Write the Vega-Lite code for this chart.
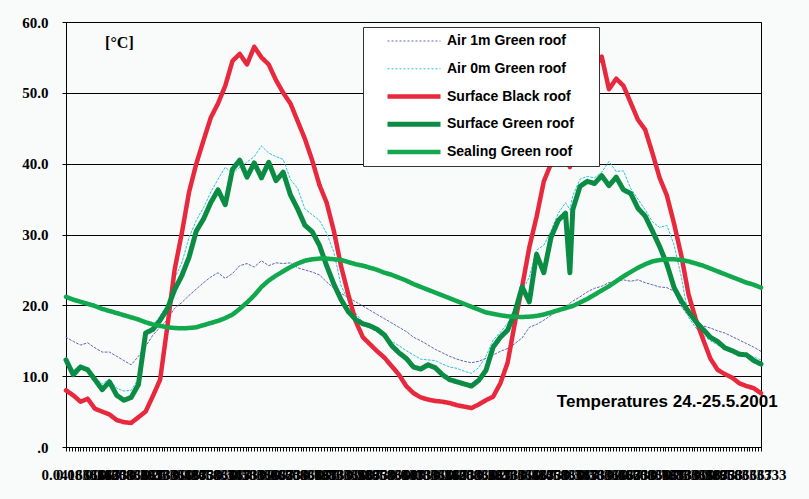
{
  "$schema": "https://vega.github.io/schema/vega-lite/v6.json",
  "width": 695,
  "height": 425,
  "autosize": {"type": "none"},
  "padding": {"left": 66, "top": 22, "right": 48, "bottom": 52},
  "background": "#f9fafa",
  "config": {"view": {"stroke": "#000000", "strokeWidth": 1}},
  "layer": [
    {
      "data": {"values": [
        {"t":0,"Air 1m Green roof":15.5,"Air 0m Green roof":12.7,"Surface Black roof":8.0,"Surface Green roof":12.3,"Sealing Green roof":21.2},
        {"t":0.5,"Air 1m Green roof":14.9,"Air 0m Green roof":10.8,"Surface Black roof":7.3,"Surface Green roof":10.2,"Sealing Green roof":20.8},
        {"t":1,"Air 1m Green roof":14.4,"Air 0m Green roof":11.5,"Surface Black roof":6.4,"Surface Green roof":11.3,"Sealing Green roof":20.5},
        {"t":1.5,"Air 1m Green roof":14.7,"Air 0m Green roof":11.0,"Surface Black roof":6.8,"Surface Green roof":10.9,"Sealing Green roof":20.2},
        {"t":2,"Air 1m Green roof":14.0,"Air 0m Green roof":9.9,"Surface Black roof":5.4,"Surface Green roof":9.5,"Sealing Green roof":19.9},
        {"t":2.5,"Air 1m Green roof":13.4,"Air 0m Green roof":8.9,"Surface Black roof":5.0,"Surface Green roof":8.1,"Sealing Green roof":19.5},
        {"t":3,"Air 1m Green roof":13.4,"Air 0m Green roof":9.6,"Surface Black roof":4.6,"Surface Green roof":9.2,"Sealing Green roof":19.2},
        {"t":3.5,"Air 1m Green roof":12.8,"Air 0m Green roof":8.3,"Surface Black roof":3.8,"Surface Green roof":7.3,"Sealing Green roof":18.9},
        {"t":4,"Air 1m Green roof":12.2,"Air 0m Green roof":7.9,"Surface Black roof":3.5,"Surface Green roof":6.6,"Sealing Green roof":18.6},
        {"t":4.5,"Air 1m Green roof":11.6,"Air 0m Green roof":8.0,"Surface Black roof":3.4,"Surface Green roof":7.0,"Sealing Green roof":18.3},
        {"t":5,"Air 1m Green roof":12.8,"Air 0m Green roof":9.6,"Surface Black roof":4.2,"Surface Green roof":8.8,"Sealing Green roof":18.0},
        {"t":5.5,"Air 1m Green roof":14.2,"Air 0m Green roof":16.2,"Surface Black roof":5.0,"Surface Green roof":16.1,"Sealing Green roof":17.6},
        {"t":6,"Air 1m Green roof":15.8,"Air 0m Green roof":17.0,"Surface Black roof":7.2,"Surface Green roof":16.6,"Sealing Green roof":17.3},
        {"t":6.5,"Air 1m Green roof":16.9,"Air 0m Green roof":18.5,"Surface Black roof":9.5,"Surface Green roof":17.9,"Sealing Green roof":17.1},
        {"t":7,"Air 1m Green roof":18.0,"Air 0m Green roof":20.2,"Surface Black roof":17.0,"Surface Green roof":19.5,"Sealing Green roof":16.9},
        {"t":7.5,"Air 1m Green roof":19.6,"Air 0m Green roof":23.8,"Surface Black roof":25.0,"Surface Green roof":22.2,"Sealing Green roof":16.8},
        {"t":8,"Air 1m Green roof":20.4,"Air 0m Green roof":26.0,"Surface Black roof":30.2,"Surface Green roof":24.2,"Sealing Green roof":16.75},
        {"t":8.5,"Air 1m Green roof":21.4,"Air 0m Green roof":29.6,"Surface Black roof":36.0,"Surface Green roof":26.8,"Sealing Green roof":16.8},
        {"t":9,"Air 1m Green roof":22.3,"Air 0m Green roof":32.0,"Surface Black roof":40.0,"Surface Green roof":30.5,"Sealing Green roof":16.9},
        {"t":9.5,"Air 1m Green roof":23.2,"Air 0m Green roof":33.8,"Surface Black roof":43.3,"Surface Green roof":32.2,"Sealing Green roof":17.2},
        {"t":10,"Air 1m Green roof":24.0,"Air 0m Green roof":36.0,"Surface Black roof":46.5,"Surface Green roof":34.5,"Sealing Green roof":17.5},
        {"t":10.5,"Air 1m Green roof":24.6,"Air 0m Green roof":37.8,"Surface Black roof":48.5,"Surface Green roof":36.3,"Sealing Green roof":17.8},
        {"t":11,"Air 1m Green roof":23.8,"Air 0m Green roof":39.5,"Surface Black roof":51.0,"Surface Green roof":34.2,"Sealing Green roof":18.2},
        {"t":11.5,"Air 1m Green roof":24.5,"Air 0m Green roof":38.6,"Surface Black roof":54.5,"Surface Green roof":39.2,"Sealing Green roof":18.7},
        {"t":12,"Air 1m Green roof":25.6,"Air 0m Green roof":39.5,"Surface Black roof":55.5,"Surface Green roof":40.5,"Sealing Green roof":19.5},
        {"t":12.5,"Air 1m Green roof":25.9,"Air 0m Green roof":40.2,"Surface Black roof":54.0,"Surface Green roof":38.1,"Sealing Green roof":20.4},
        {"t":13,"Air 1m Green roof":25.4,"Air 0m Green roof":41.0,"Surface Black roof":56.5,"Surface Green roof":40.1,"Sealing Green roof":21.4},
        {"t":13.5,"Air 1m Green roof":26.3,"Air 0m Green roof":42.5,"Surface Black roof":55.0,"Surface Green roof":38.0,"Sealing Green roof":22.6},
        {"t":14,"Air 1m Green roof":25.6,"Air 0m Green roof":41.5,"Surface Black roof":54.0,"Surface Green roof":40.2,"Sealing Green roof":23.5},
        {"t":14.5,"Air 1m Green roof":26.0,"Air 0m Green roof":41.0,"Surface Black roof":51.8,"Surface Green roof":37.6,"Sealing Green roof":24.2},
        {"t":15,"Air 1m Green roof":25.9,"Air 0m Green roof":40.6,"Surface Black roof":50.0,"Surface Green roof":38.8,"Sealing Green roof":24.8},
        {"t":15.5,"Air 1m Green roof":26.0,"Air 0m Green roof":37.8,"Surface Black roof":48.5,"Surface Green roof":35.6,"Sealing Green roof":25.4},
        {"t":16,"Air 1m Green roof":25.3,"Air 0m Green roof":36.5,"Surface Black roof":46.0,"Surface Green roof":33.6,"Sealing Green roof":25.9},
        {"t":16.5,"Air 1m Green roof":25.0,"Air 0m Green roof":33.6,"Surface Black roof":43.5,"Surface Green roof":31.3,"Sealing Green roof":26.3},
        {"t":17,"Air 1m Green roof":24.7,"Air 0m Green roof":32.8,"Surface Black roof":40.5,"Surface Green roof":30.4,"Sealing Green roof":26.5},
        {"t":17.5,"Air 1m Green roof":24.3,"Air 0m Green roof":32.0,"Surface Black roof":37.0,"Surface Green roof":28.5,"Sealing Green roof":26.6},
        {"t":18,"Air 1m Green roof":23.3,"Air 0m Green roof":30.2,"Surface Black roof":34.5,"Surface Green roof":25.6,"Sealing Green roof":26.6},
        {"t":18.5,"Air 1m Green roof":22.4,"Air 0m Green roof":27.5,"Surface Black roof":30.5,"Surface Green roof":23.0,"Sealing Green roof":26.5},
        {"t":19,"Air 1m Green roof":21.7,"Air 0m Green roof":22.8,"Surface Black roof":25.5,"Surface Green roof":20.8,"Sealing Green roof":26.4},
        {"t":19.5,"Air 1m Green roof":21.1,"Air 0m Green roof":20.6,"Surface Black roof":21.5,"Surface Green roof":19.1,"Sealing Green roof":26.1},
        {"t":20,"Air 1m Green roof":20.5,"Air 0m Green roof":18.9,"Surface Black roof":17.8,"Surface Green roof":18.0,"Sealing Green roof":25.8},
        {"t":20.5,"Air 1m Green roof":19.9,"Air 0m Green roof":17.6,"Surface Black roof":15.5,"Surface Green roof":17.4,"Sealing Green roof":25.6},
        {"t":21,"Air 1m Green roof":19.3,"Air 0m Green roof":16.9,"Surface Black roof":14.5,"Surface Green roof":17.1,"Sealing Green roof":25.3},
        {"t":21.5,"Air 1m Green roof":18.7,"Air 0m Green roof":16.2,"Surface Black roof":13.5,"Surface Green roof":16.6,"Sealing Green roof":25.0},
        {"t":22,"Air 1m Green roof":18.1,"Air 0m Green roof":15.4,"Surface Black roof":12.6,"Surface Green roof":15.8,"Sealing Green roof":24.6},
        {"t":22.5,"Air 1m Green roof":17.5,"Air 0m Green roof":14.9,"Surface Black roof":11.4,"Surface Green roof":14.3,"Sealing Green roof":24.3},
        {"t":23,"Air 1m Green roof":16.9,"Air 0m Green roof":14.3,"Surface Black roof":10.2,"Surface Green roof":13.3,"Sealing Green roof":23.9},
        {"t":23.5,"Air 1m Green roof":16.3,"Air 0m Green roof":13.6,"Surface Black roof":8.6,"Surface Green roof":12.5,"Sealing Green roof":23.5},
        {"t":24,"Air 1m Green roof":15.5,"Air 0m Green roof":13.0,"Surface Black roof":7.6,"Surface Green roof":11.3,"Sealing Green roof":23.0},
        {"t":24.5,"Air 1m Green roof":15.0,"Air 0m Green roof":12.4,"Surface Black roof":7.0,"Surface Green roof":11.0,"Sealing Green roof":22.6},
        {"t":25,"Air 1m Green roof":14.4,"Air 0m Green roof":12.3,"Surface Black roof":6.7,"Surface Green roof":11.6,"Sealing Green roof":22.2},
        {"t":25.5,"Air 1m Green roof":13.8,"Air 0m Green roof":12.2,"Surface Black roof":6.5,"Surface Green roof":11.2,"Sealing Green roof":21.8},
        {"t":26,"Air 1m Green roof":13.3,"Air 0m Green roof":11.7,"Surface Black roof":6.4,"Surface Green roof":10.2,"Sealing Green roof":21.4},
        {"t":26.5,"Air 1m Green roof":12.8,"Air 0m Green roof":11.3,"Surface Black roof":6.2,"Surface Green roof":9.5,"Sealing Green roof":21.0},
        {"t":27,"Air 1m Green roof":12.4,"Air 0m Green roof":11.1,"Surface Black roof":5.9,"Surface Green roof":9.2,"Sealing Green roof":20.6},
        {"t":27.5,"Air 1m Green roof":12.1,"Air 0m Green roof":10.7,"Surface Black roof":5.7,"Surface Green roof":8.9,"Sealing Green roof":20.2},
        {"t":28,"Air 1m Green roof":11.9,"Air 0m Green roof":10.4,"Surface Black roof":5.5,"Surface Green roof":8.6,"Sealing Green roof":19.8},
        {"t":28.5,"Air 1m Green roof":12.1,"Air 0m Green roof":11.2,"Surface Black roof":6.0,"Surface Green roof":9.4,"Sealing Green roof":19.4},
        {"t":29,"Air 1m Green roof":12.5,"Air 0m Green roof":12.8,"Surface Black roof":6.6,"Surface Green roof":10.8,"Sealing Green roof":19.0},
        {"t":29.5,"Air 1m Green roof":13.0,"Air 0m Green roof":15.1,"Surface Black roof":7.1,"Surface Green roof":14.1,"Sealing Green roof":18.8},
        {"t":30,"Air 1m Green roof":13.5,"Air 0m Green roof":16.2,"Surface Black roof":9.0,"Surface Green roof":15.5,"Sealing Green roof":18.6},
        {"t":30.5,"Air 1m Green roof":13.9,"Air 0m Green roof":17.5,"Surface Black roof":11.9,"Surface Green roof":16.5,"Sealing Green roof":18.45},
        {"t":31,"Air 1m Green roof":14.6,"Air 0m Green roof":19.0,"Surface Black roof":17.5,"Surface Green roof":19.0,"Sealing Green roof":18.4},
        {"t":31.5,"Air 1m Green roof":15.4,"Air 0m Green roof":22.0,"Surface Black roof":22.6,"Surface Green roof":22.6,"Sealing Green roof":18.35},
        {"t":32,"Air 1m Green roof":16.9,"Air 0m Green roof":24.0,"Surface Black roof":28.2,"Surface Green roof":20.5,"Sealing Green roof":18.4},
        {"t":32.5,"Air 1m Green roof":17.3,"Air 0m Green roof":27.8,"Surface Black roof":32.5,"Surface Green roof":27.2,"Sealing Green roof":18.5},
        {"t":33,"Air 1m Green roof":17.9,"Air 0m Green roof":28.5,"Surface Black roof":37.5,"Surface Green roof":24.6,"Sealing Green roof":18.7},
        {"t":33.5,"Air 1m Green roof":18.6,"Air 0m Green roof":30.5,"Surface Black roof":40.0,"Surface Green roof":29.6,"Sealing Green roof":19.0},
        {"t":34,"Air 1m Green roof":19.2,"Air 0m Green roof":33.0,"Surface Black roof":45.0,"Surface Green roof":32.0,"Sealing Green roof":19.3},
        {"t":34.5,"Air 1m Green roof":19.8,"Air 0m Green roof":34.5,"Surface Black roof":51.5,"Surface Green roof":33.0,"Sealing Green roof":19.6},
        {"t":34.8,"Air 1m Green roof":20.3,"Air 0m Green roof":33.5,"Surface Black roof":39.5,"Surface Green roof":24.6,"Sealing Green roof":19.8},
        {"t":35,"Air 1m Green roof":20.6,"Air 0m Green roof":35.5,"Surface Black roof":52.5,"Surface Green roof":33.5,"Sealing Green roof":19.9},
        {"t":35.5,"Air 1m Green roof":21.2,"Air 0m Green roof":37.8,"Surface Black roof":53.0,"Surface Green roof":36.8,"Sealing Green roof":20.4},
        {"t":36,"Air 1m Green roof":21.9,"Air 0m Green roof":38.2,"Surface Black roof":54.5,"Surface Green roof":37.5,"Sealing Green roof":20.9},
        {"t":36.5,"Air 1m Green roof":22.4,"Air 0m Green roof":38.0,"Surface Black roof":53.6,"Surface Green roof":37.2,"Sealing Green roof":21.5},
        {"t":37,"Air 1m Green roof":22.7,"Air 0m Green roof":38.8,"Surface Black roof":55.1,"Surface Green roof":38.3,"Sealing Green roof":22.1},
        {"t":37.5,"Air 1m Green roof":23.2,"Air 0m Green roof":40.3,"Surface Black roof":50.5,"Surface Green roof":36.9,"Sealing Green roof":22.7},
        {"t":38,"Air 1m Green roof":23.4,"Air 0m Green roof":38.9,"Surface Black roof":52.0,"Surface Green roof":38.1,"Sealing Green roof":23.4},
        {"t":38.5,"Air 1m Green roof":23.6,"Air 0m Green roof":39.0,"Surface Black roof":51.0,"Surface Green roof":36.3,"Sealing Green roof":24.1},
        {"t":39,"Air 1m Green roof":23.4,"Air 0m Green roof":36.5,"Surface Black roof":48.6,"Surface Green roof":35.8,"Sealing Green roof":24.7},
        {"t":39.5,"Air 1m Green roof":23.6,"Air 0m Green roof":35.0,"Surface Black roof":46.2,"Surface Green roof":33.7,"Sealing Green roof":25.3},
        {"t":40,"Air 1m Green roof":23.2,"Air 0m Green roof":33.5,"Surface Black roof":44.8,"Surface Green roof":32.6,"Sealing Green roof":25.8},
        {"t":40.5,"Air 1m Green roof":22.9,"Air 0m Green roof":31.8,"Surface Black roof":41.5,"Surface Green roof":30.5,"Sealing Green roof":26.2},
        {"t":41,"Air 1m Green roof":22.6,"Air 0m Green roof":31.0,"Surface Black roof":38.0,"Surface Green roof":28.3,"Sealing Green roof":26.4},
        {"t":41.5,"Air 1m Green roof":22.5,"Air 0m Green roof":31.3,"Surface Black roof":35.5,"Surface Green roof":25.8,"Sealing Green roof":26.5},
        {"t":42,"Air 1m Green roof":22.0,"Air 0m Green roof":28.5,"Surface Black roof":31.5,"Surface Green roof":22.5,"Sealing Green roof":26.5},
        {"t":42.5,"Air 1m Green roof":19.8,"Air 0m Green roof":24.0,"Surface Black roof":27.0,"Surface Green roof":20.6,"Sealing Green roof":26.4},
        {"t":43,"Air 1m Green roof":18.5,"Air 0m Green roof":18.3,"Surface Black roof":21.5,"Surface Green roof":19.1,"Sealing Green roof":26.2},
        {"t":43.5,"Air 1m Green roof":17.7,"Air 0m Green roof":16.8,"Surface Black roof":18.0,"Surface Green roof":17.7,"Sealing Green roof":25.9},
        {"t":44,"Air 1m Green roof":17.1,"Air 0m Green roof":15.8,"Surface Black roof":15.2,"Surface Green roof":16.6,"Sealing Green roof":25.6},
        {"t":44.5,"Air 1m Green roof":16.8,"Air 0m Green roof":15.0,"Surface Black roof":12.5,"Surface Green roof":15.5,"Sealing Green roof":25.2},
        {"t":45,"Air 1m Green roof":16.4,"Air 0m Green roof":14.4,"Surface Black roof":10.9,"Surface Green roof":14.9,"Sealing Green roof":24.8},
        {"t":45.5,"Air 1m Green roof":16.1,"Air 0m Green roof":14.0,"Surface Black roof":10.3,"Surface Green roof":14.0,"Sealing Green roof":24.4},
        {"t":46,"Air 1m Green roof":15.6,"Air 0m Green roof":13.7,"Surface Black roof":9.8,"Surface Green roof":13.6,"Sealing Green roof":24.0},
        {"t":46.5,"Air 1m Green roof":15.1,"Air 0m Green roof":13.4,"Surface Black roof":9.0,"Surface Green roof":13.1,"Sealing Green roof":23.6},
        {"t":47,"Air 1m Green roof":14.6,"Air 0m Green roof":13.1,"Surface Black roof":8.6,"Surface Green roof":13.0,"Sealing Green roof":23.2},
        {"t":47.5,"Air 1m Green roof":14.1,"Air 0m Green roof":12.7,"Surface Black roof":8.3,"Surface Green roof":12.2,"Sealing Green roof":22.9},
        {"t":48,"Air 1m Green roof":13.5,"Air 0m Green roof":12.3,"Surface Black roof":7.6,"Surface Green roof":11.7,"Sealing Green roof":22.5}
      ]},
      "transform": [
        {"fold": ["Air 1m Green roof", "Air 0m Green roof", "Surface Black roof", "Surface Green roof", "Sealing Green roof"], "as": ["series", "temp"]}
      ],
      "mark": {"type": "line", "strokeJoin": "round", "strokeCap": "round"},
      "encoding": {
        "x": {
          "field": "t", "type": "quantitative",
          "scale": {"domain": [0, 48], "nice": false, "zero": false},
          "axis": {
            "title": null, "grid": false, "tickCount": 300,
            "labelExpr": "datum.value % 1 === 0 && datum.value > 0 && datum.value < 48 ? format((datum.value % 24) / 24, '.9~f') : ''",
            "labelOverlap": false, "labelFlush": false, "labelBound": false,
            "labelFont": "Liberation Serif", "labelFontWeight": "bold", "labelFontSize": 15, "labelColor": "#000000",
            "labelPadding": 16, "tickSize": 4, "tickColor": "#000000", "tickWidth": 1, "domainColor": "#000000"
          }
        },
        "y": {
          "field": "temp", "type": "quantitative",
          "scale": {"domain": [0, 60], "nice": false},
          "axis": {
            "title": null, "values": [0, 10, 20, 30, 40, 50, 60],
            "labelExpr": "datum.value === 0 ? '.0' : format(datum.value, '.1f')",
            "labelFont": "Liberation Serif", "labelFontWeight": "bold", "labelFontSize": 15, "labelColor": "#000000",
            "labelPadding": 14, "tickSize": 4, "tickColor": "#000000", "domainColor": "#000000",
            "grid": true, "gridColor": "#000000", "gridOpacity": 1, "gridWidth": 1
          }
        },
        "color": {
          "field": "series", "type": "nominal",
          "scale": {
            "domain": ["Air 1m Green roof", "Air 0m Green roof", "Surface Black roof", "Surface Green roof", "Sealing Green roof"],
            "range": ["#6464b4", "#2cc4dc", "#e8283c", "#0a8c44", "#12a84e"]
          },
          "legend": {
            "title": " ", "titleOrient": "right", "titlePadding": 18,
            "orient": "none", "legendX": 297, "legendY": 5, "direction": "vertical",
            "fillColor": "#ffffff", "strokeColor": "#333333", "padding": 7,
            "symbolType": "stroke", "symbolSize": 2809, "symbolOffset": 15,
            "clipHeight": 14, "rowPadding": 13.75, "labelOffset": 4,
            "labelFont": "Liberation Sans", "labelFontSize": 14, "labelFontWeight": "bold", "labelColor": "#000000",
            "labelLimit": 300
          }
        },
        "strokeDash": {
          "field": "series", "type": "nominal",
          "scale": {
            "domain": ["Air 1m Green roof", "Air 0m Green roof", "Surface Black roof", "Surface Green roof", "Sealing Green roof"],
            "range": [[2, 2], [2, 2], [1, 0], [1, 0], [1, 0]]
          }
        },
        "strokeWidth": {
          "field": "series", "type": "nominal",
          "scale": {
            "type": "ordinal",
            "domain": ["Air 1m Green roof", "Air 0m Green roof", "Surface Black roof", "Surface Green roof", "Sealing Green roof"],
            "range": [1, 1, 4.5, 5, 4.5]
          }
        }
      }
    },
    {
      "data": {"values": [{"label": "[°C]"}]},
      "mark": {"type": "text", "align": "left", "baseline": "middle", "font": "Liberation Serif", "fontWeight": "bold", "fontSize": 16, "color": "#000000"},
      "encoding": {
        "x": {"datum": 2.7, "type": "quantitative"},
        "y": {"datum": 57.1, "type": "quantitative"},
        "text": {"field": "label"}
      }
    },
    {
      "data": {"values": [{"label": "Temperatures 24.-25.5.2001"}]},
      "mark": {"type": "text", "align": "left", "baseline": "middle", "font": "Liberation Sans", "fontWeight": "bold", "fontSize": 17, "color": "#000000"},
      "encoding": {
        "x": {"datum": 33.9, "type": "quantitative"},
        "y": {"datum": 6.35, "type": "quantitative"},
        "text": {"field": "label"}
      }
    }
  ]
}
